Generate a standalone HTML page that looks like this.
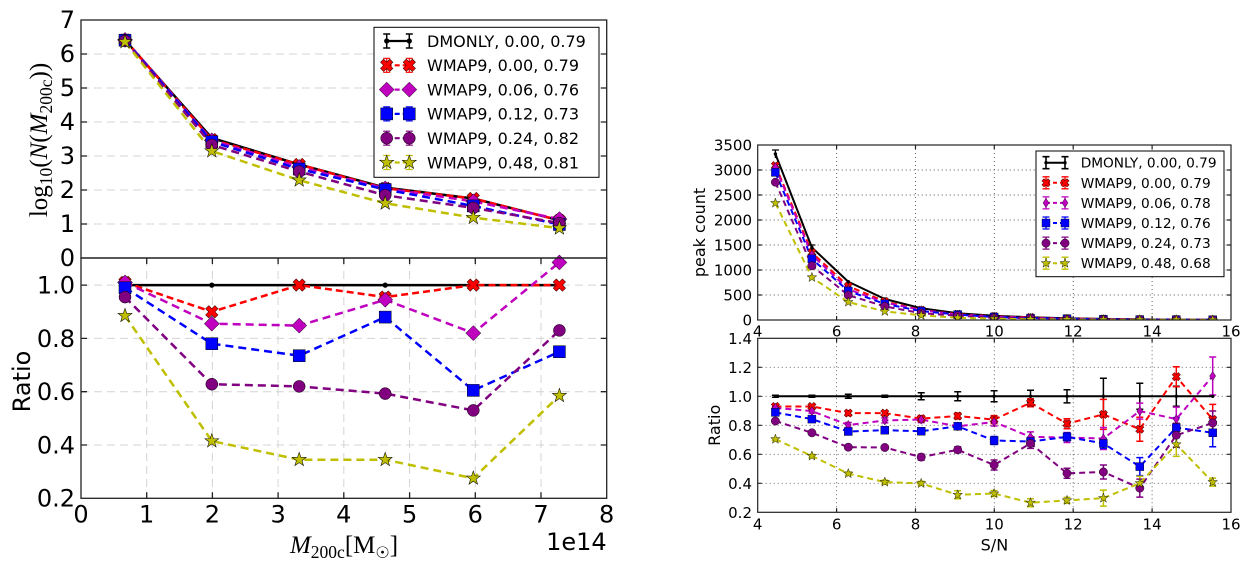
<!DOCTYPE html>
<html><head><meta charset="utf-8"><style>
html,body{margin:0;padding:0;background:#fff;overflow:hidden}
svg{display:block}
</style></head><body>
<svg width="1258" height="572" viewBox="0 0 1258 572" xmlns="http://www.w3.org/2000/svg" font-family="'DejaVu Sans','Liberation Sans',sans-serif">
<defs>
<path id="XL" d="M-2.2,-6.5H2.2V-2.2H6.5V2.2H2.2V6.5H-2.2V2.2H-6.5V-2.2H-2.2Z" transform="rotate(45)" fill="#f00" stroke="#400" stroke-width="0.6"/>
<path id="DL" d="M0,-7.5L7.5,0L0,7.5L-7.5,0Z" fill="#bf00bf" stroke="#000" stroke-width="0.5"/>
<rect id="SL" x="-6" y="-6" width="12" height="12" fill="#00f" stroke="#000" stroke-width="0.5"/>
<circle id="CL" r="6" fill="#800080" stroke="#000" stroke-width="0.5"/>
<polygon id="StL" points="0,-7 1.646,-2.265 6.657,-2.163 2.663,0.865 4.114,5.663 0,2.8 -4.114,5.663 -2.663,0.865 -6.657,-2.163 -1.646,-2.265" transform="scale(1.05)" fill="#bfbf00" stroke="#000" stroke-width="0.5"/>
<circle id="KL" r="2.6" fill="#000"/>
<path id="XR" d="M-1.5,-4.3H1.5V-1.5H4.3V1.5H1.5V4.3H-1.5V1.5H-4.3V-1.5H-1.5Z" transform="rotate(45)" fill="#f00" stroke="#400" stroke-width="0.5"/>
<path id="DR" d="M0,-4.6L3,0L0,4.6L-3,0Z" fill="#bf00bf" stroke="#000" stroke-width="0.4"/>
<rect id="SR" x="-4" y="-4" width="8" height="8" fill="#00f" stroke="#000" stroke-width="0.4"/>
<circle id="CR" r="4.2" fill="#800080" stroke="#000" stroke-width="0.4"/>
<polygon id="StR" points="0,-7 1.646,-2.265 6.657,-2.163 2.663,0.865 4.114,5.663 0,2.8 -4.114,5.663 -2.663,0.865 -6.657,-2.163 -1.646,-2.265" transform="scale(0.72)" fill="#bfbf00" stroke="#000" stroke-width="0.6"/>
<circle id="KR" r="1.7" fill="#000"/>
<clipPath id="clipRT"><rect x="757.7" y="145" width="473.3" height="175"/></clipPath>
</defs>

<!-- ================= LEFT FIGURE ================= -->
<!-- grid top -->
<g stroke="#d4d4d4" stroke-width="1" stroke-dasharray="8,5" fill="none">
<path d="M81 224H606.7M81 190H606.7M81 156H606.7M81 122H606.7M81 88H606.7M81 54H606.7"/>
<path d="M81 285.1H606.7M81 338.4H606.7M81 391.7H606.7M81 445H606.7"/>
<path d="M146.7 258V498.3M212.4 258V498.3M278.1 258V498.3M343.8 258V498.3M409.6 258V498.3M475.3 258V498.3M541 258V498.3"/>
</g>

<!-- top-left data lines -->
<g fill="none" stroke-width="2.5" stroke-linejoin="round">
<polyline points="125,40.1 211.8,138 299.2,164.5 385.2,187.6 473.3,198.5 559.4,220.3" stroke="#000"/>
<polyline points="125,39.9 211.8,139.6 299.2,164.5 385.2,188.3 473.3,198.5 559.4,220.3" stroke="#f00" stroke-dasharray="7,4"/>
<polyline points="125,39.9 211.8,140.3 299.2,166.9 385.2,188.4 473.3,201.4 559.4,219.1" stroke="#bf00bf" stroke-dasharray="8,5"/>
<polyline points="125,40.2 211.8,141.7 299.2,169 385.2,189.5 473.3,205.9 559.4,224.5" stroke="#00f" stroke-dasharray="8,5"/>
<polyline points="125,40.8 211.8,144.9 299.2,171.6 385.2,195.3 473.3,207.9 559.4,223.1" stroke="#800080" stroke-dasharray="8,5"/>
<polyline points="125,41.9 211.8,151 299.2,180.2 385.2,203.3 473.3,217.6 559.4,228.2" stroke="#bfbf00" stroke-dasharray="8,5"/>
</g>
<g>
<use href="#KL" x="125" y="40.1"/><use href="#KL" x="211.8" y="138"/><use href="#KL" x="299.2" y="164.5"/><use href="#KL" x="385.2" y="187.6"/><use href="#KL" x="473.3" y="198.5"/><use href="#KL" x="559.4" y="220.3"/>
<use href="#XL" x="125" y="39.9"/><use href="#XL" x="211.8" y="139.6"/><use href="#XL" x="299.2" y="164.5"/><use href="#XL" x="385.2" y="188.3"/><use href="#XL" x="473.3" y="198.5"/><use href="#XL" x="559.4" y="220.3"/>
<use href="#DL" x="125" y="39.9"/><use href="#DL" x="211.8" y="140.3"/><use href="#DL" x="299.2" y="166.9"/><use href="#DL" x="385.2" y="188.4"/><use href="#DL" x="473.3" y="201.4"/><use href="#DL" x="559.4" y="219.1"/>
<use href="#SL" x="125" y="40.2"/><use href="#SL" x="211.8" y="141.7"/><use href="#SL" x="299.2" y="169"/><use href="#SL" x="385.2" y="189.5"/><use href="#SL" x="473.3" y="205.9"/><use href="#SL" x="559.4" y="224.5"/>
<use href="#CL" x="125" y="40.8"/><use href="#CL" x="211.8" y="144.9"/><use href="#CL" x="299.2" y="171.6"/><use href="#CL" x="385.2" y="195.3"/><use href="#CL" x="473.3" y="207.9"/><use href="#CL" x="559.4" y="223.1"/>
<use href="#StL" x="125" y="41.9"/><use href="#StL" x="211.8" y="151"/><use href="#StL" x="299.2" y="180.2"/><use href="#StL" x="385.2" y="203.3"/><use href="#StL" x="473.3" y="217.6"/><use href="#StL" x="559.4" y="228.2"/>
</g>

<!-- bottom-left data lines -->
<g fill="none" stroke-width="2.5" stroke-linejoin="round">
<polyline points="125,285.1 211.8,285.1 299.2,285.1 385.2,285.1 473.3,285.1 559.4,285.1" stroke="#000"/>
<polyline points="125,282.4 211.8,311.8 299.2,285.1 385.2,297.1 473.3,285.1 559.4,285.1" stroke="#f00" stroke-dasharray="7,4"/>
<polyline points="125,282.4 211.8,323.7 299.2,325.6 385.2,299.8 473.3,333.1 559.4,262.4" stroke="#bf00bf" stroke-dasharray="8,5"/>
<polyline points="125,287.8 211.8,343.7 299.2,355.7 385.2,317.1 473.3,390.4 559.4,351.7" stroke="#00f" stroke-dasharray="8,5"/>
<polyline points="125,297.1 211.8,384.2 299.2,386.4 385.2,393.6 473.3,410.4 559.4,330.4" stroke="#800080" stroke-dasharray="8,5"/>
<polyline points="125,315.7 211.8,441 299.2,459.7 385.2,459.7 473.3,478.3 559.4,395.7" stroke="#bfbf00" stroke-dasharray="8,5"/>
</g>
<g>
<use href="#KL" x="125" y="285.1"/><use href="#KL" x="211.8" y="285.1"/><use href="#KL" x="299.2" y="285.1"/><use href="#KL" x="385.2" y="285.1"/><use href="#KL" x="473.3" y="285.1"/><use href="#KL" x="559.4" y="285.1"/>
<use href="#XL" x="125" y="282.4"/><use href="#XL" x="211.8" y="311.8"/><use href="#XL" x="299.2" y="285.1"/><use href="#XL" x="385.2" y="297.1"/><use href="#XL" x="473.3" y="285.1"/><use href="#XL" x="559.4" y="285.1"/>
<use href="#DL" x="125" y="282.4"/><use href="#DL" x="211.8" y="323.7"/><use href="#DL" x="299.2" y="325.6"/><use href="#DL" x="385.2" y="299.8"/><use href="#DL" x="473.3" y="333.1"/><use href="#DL" x="559.4" y="262.4"/>
<use href="#SL" x="125" y="287.8"/><use href="#SL" x="211.8" y="343.7"/><use href="#SL" x="299.2" y="355.7"/><use href="#SL" x="385.2" y="317.1"/><use href="#SL" x="473.3" y="390.4"/><use href="#SL" x="559.4" y="351.7"/>
<use href="#CL" x="125" y="297.1"/><use href="#CL" x="211.8" y="384.2"/><use href="#CL" x="299.2" y="386.4"/><use href="#CL" x="385.2" y="393.6"/><use href="#CL" x="473.3" y="410.4"/><use href="#CL" x="559.4" y="330.4"/>
<use href="#StL" x="125" y="315.7"/><use href="#StL" x="211.8" y="441"/><use href="#StL" x="299.2" y="459.7"/><use href="#StL" x="385.2" y="459.7"/><use href="#StL" x="473.3" y="478.3"/><use href="#StL" x="559.4" y="395.7"/>
</g>

<!-- left frames & ticks -->
<g fill="none" stroke="#222" stroke-width="1.3">
<rect x="81" y="20" width="525.7" height="238"/>
<rect x="81" y="258" width="525.7" height="240.3"/>
<path d="M81 224h6M81 190h6M81 156h6M81 122h6M81 88h6M81 54h6M606.7 224h-6M606.7 190h-6M606.7 156h-6M606.7 122h-6M606.7 88h-6M606.7 54h-6"/>
<path d="M81 285.1h6M81 338.4h6M81 391.7h6M81 445h6M606.7 285.1h-6M606.7 338.4h-6M606.7 391.7h-6M606.7 445h-6"/>
<path d="M146.7 498.3v-6M212.4 498.3v-6M278.1 498.3v-6M343.8 498.3v-6M409.6 498.3v-6M475.3 498.3v-6M541 498.3v-6M146.7 258v6M212.4 258v6M278.1 258v6M343.8 258v6M409.6 258v6M475.3 258v6M541 258v6"/>
</g>

<!-- left tick labels -->
<g font-size="24" fill="#000" text-anchor="end">
<text x="75" y="28">7</text><text x="75" y="62">6</text><text x="75" y="96">5</text><text x="75" y="130">4</text><text x="75" y="164">3</text><text x="75" y="198">2</text><text x="75" y="232">1</text><text x="75" y="266">0</text>
<text x="75" y="293.5">1.0</text><text x="75" y="346.8">0.8</text><text x="75" y="400.1">0.6</text><text x="75" y="453.4">0.4</text><text x="75" y="506.7">0.2</text>
</g>
<g font-size="24" fill="#000" text-anchor="middle">
<text x="81" y="522.7">0</text><text x="146.7" y="522.7">1</text><text x="212.4" y="522.7">2</text><text x="278.1" y="522.7">3</text><text x="343.8" y="522.7">4</text><text x="409.6" y="522.7">5</text><text x="475.3" y="522.7">6</text><text x="541" y="522.7">7</text><text x="606.7" y="522.7">8</text>
</g>
<text x="606.7" y="550" font-size="24" text-anchor="end">1e14</text>
<text x="344" y="553" font-size="25" text-anchor="middle" font-family="'Liberation Serif','DejaVu Serif',serif"><tspan font-style="italic">M</tspan><tspan font-size="17.5" dy="5">200c</tspan><tspan dy="-5">[M</tspan><tspan font-size="16" dy="5" font-family="'DejaVu Sans',sans-serif">☉</tspan><tspan dy="-5">]</tspan></text>
<text transform="translate(47,140) rotate(-90)" font-size="25" text-anchor="middle" font-family="'Liberation Serif','DejaVu Serif',serif">log<tspan font-size="17.5" dy="5">10</tspan><tspan dy="-5">(</tspan><tspan font-style="italic">N</tspan>(<tspan font-style="italic">M</tspan><tspan font-size="17.5" dy="5">200c</tspan><tspan dy="-5">))</tspan></text>
<text transform="translate(30,381.5) rotate(-90)" font-size="24" text-anchor="middle">Ratio</text>

<!-- left legend -->
<rect x="374" y="27.3" width="225" height="150" fill="#fff" stroke="#000" stroke-width="1"/>
<g fill="none" stroke-width="2.2">
<path d="M386.7 41H409.3" stroke="#000"/>
<path d="M386.7 34v14M383.2 34h7M383.2 48h7M409.3 34v14M405.8 34h7M405.8 48h7" stroke="#000" stroke-width="1.5"/>
<path d="M386.7 65.3H409.3" stroke="#f00" stroke-dasharray="5,3"/>
<path d="M386.7 58.3v14M383.2 58.3h7M383.2 72.3h7M409.3 58.3v14M405.8 58.3h7M405.8 72.3h7" stroke="#f00" stroke-width="1.2"/>
<path d="M386.7 89.6H409.3" stroke="#bf00bf" stroke-dasharray="5,3"/>
<path d="M386.7 106.9v14M383.2 106.9h7M383.2 120.9h7M409.3 106.9v14M405.8 106.9h7M405.8 120.9h7" stroke="#00f" stroke-width="1.2"/>
<path d="M386.7 113.9H409.3" stroke="#00f" stroke-dasharray="5,3"/>
<path d="M386.7 131.2v14M383.2 131.2h7M383.2 145.2h7M409.3 131.2v14M405.8 131.2h7M405.8 145.2h7" stroke="#800080" stroke-width="1.2"/>
<path d="M386.7 138.2H409.3" stroke="#800080" stroke-dasharray="5,3"/>
<path d="M386.7 155.5v14M383.2 155.5h7M383.2 169.5h7M409.3 155.5v14M405.8 155.5h7M405.8 169.5h7" stroke="#bfbf00" stroke-width="1.2"/>
<path d="M386.7 162.5H409.3" stroke="#bfbf00" stroke-dasharray="5,3"/>
</g>
<use href="#KL" x="386.7" y="41"/><use href="#KL" x="409.3" y="41"/>
<use href="#XL" x="386.7" y="65.3"/><use href="#XL" x="409.3" y="65.3"/>
<use href="#DL" x="386.7" y="89.6"/><use href="#DL" x="409.3" y="89.6"/>
<use href="#SL" x="386.7" y="113.9"/><use href="#SL" x="409.3" y="113.9"/>
<use href="#CL" x="386.7" y="138.2"/><use href="#CL" x="409.3" y="138.2"/>
<use href="#StL" x="386.7" y="162.5"/><use href="#StL" x="409.3" y="162.5"/>
<g font-size="16" fill="#000">
<text x="427" y="46.8">DMONLY, 0.00, 0.79</text>
<text x="427" y="71.1">WMAP9, 0.00, 0.79</text>
<text x="427" y="95.4">WMAP9, 0.06, 0.76</text>
<text x="427" y="119.7">WMAP9, 0.12, 0.73</text>
<text x="427" y="144">WMAP9, 0.24, 0.82</text>
<text x="427" y="168.3">WMAP9, 0.48, 0.81</text>
</g>

<!-- ================= RIGHT FIGURE ================= -->
<g stroke="#555" stroke-width="0.9" stroke-dasharray="1,3" fill="none">
<path d="M757.7 295H1231M757.7 270H1231M757.7 245H1231M757.7 220H1231M757.7 195H1231M757.7 170H1231"/>
<path d="M836.6 145V320M915.5 145V320M994.3 145V320M1073.2 145V320M1152.1 145V320"/>
<path d="M757.7 367.3H1231M757.7 396.3H1231M757.7 425.3H1231M757.7 454.3H1231M757.7 483.3H1231"/>
<path d="M836.6 338.3V512.3M915.5 338.3V512.3M994.3 338.3V512.3M1073.2 338.3V512.3M1152.1 338.3V512.3"/>
</g>

<!-- top-right data -->
<g clip-path="url(#clipRT)">
<g fill="none" stroke-width="2" stroke-linejoin="round">
<polyline stroke="#000" points="775.4,154 811.9,247.5 848.3,281.75 884.8,299 921.2,308.25 957.7,313.25 994.1,315.75 1030.5,317.25 1067,318.25 1103.4,318.9 1139.8,319.3 1176.3,319.55 1212.7,319.7"/>
<polyline stroke="#f00" stroke-dasharray="6,4" points="775.4,165.6 811.9,252.6 848.3,286.2 884.8,301.4 921.2,310.1 957.7,314.2 994.1,316.4 1030.5,317.4 1067,318.6 1103.4,319 1139.8,319.5 1176.3,319.5 1212.7,319.7"/>
<polyline stroke="#bf00bf" stroke-dasharray="6,4" points="775.4,167.1 811.9,254.9 848.3,289.3 884.8,302.5 921.2,310.1 957.7,314.6 994.1,316.5 1030.5,318 1067,318.75 1103.4,319.2 1139.8,319.4 1176.3,319.6 1212.7,319.7"/>
<polyline stroke="#00f" stroke-dasharray="6,4" points="775.4,172.4 811.9,258.9 848.3,291 884.8,303.9 921.2,311.1 957.7,314.6 994.1,317 1030.5,318.1 1067,318.7 1103.4,319.3 1139.8,319.6 1176.3,319.6 1212.7,319.8"/>
<polyline stroke="#800080" stroke-dasharray="6,4" points="775.4,182.2 811.9,265.8 848.3,295.2 884.8,306.4 921.2,313.2 957.7,315.7 994.1,317.8 1030.5,318.1 1067,319.2 1103.4,319.5 1139.8,319.7 1176.3,319.7 1212.7,319.8"/>
<polyline stroke="#bfbf00" stroke-dasharray="6,4" points="775.4,203.1 811.9,277.4 848.3,302.1 884.8,311.4 921.2,315.3 957.7,317.8 994.1,318.6 1030.5,319.3 1067,319.5 1103.4,319.7 1139.8,319.7 1176.3,319.7 1212.7,319.9"/>
</g>
<path d="M775.4 150V158M772 150h7M811.9 245V250M808.4 245h7" stroke="#000" stroke-width="1.3" fill="none"/>
<use href="#KR" x="775.4" y="154"/><use href="#KR" x="811.9" y="247.5"/><use href="#KR" x="848.3" y="281.75"/><use href="#KR" x="884.8" y="299"/><use href="#KR" x="921.2" y="308.25"/><use href="#KR" x="957.7" y="313.25"/><use href="#KR" x="994.1" y="315.75"/><use href="#KR" x="1030.5" y="317.25"/><use href="#KR" x="1067" y="318.25"/><use href="#KR" x="1103.4" y="318.9"/><use href="#KR" x="1139.8" y="319.3"/><use href="#KR" x="1176.3" y="319.55"/><use href="#KR" x="1212.7" y="319.7"/>
<use href="#XR" x="775.4" y="165.6"/><use href="#XR" x="811.9" y="252.6"/><use href="#XR" x="848.3" y="286.2"/><use href="#XR" x="884.8" y="301.4"/><use href="#XR" x="921.2" y="310.1"/><use href="#XR" x="957.7" y="314.2"/><use href="#XR" x="994.1" y="316.4"/><use href="#XR" x="1030.5" y="317.4"/><use href="#XR" x="1067" y="318.6"/><use href="#XR" x="1103.4" y="319"/><use href="#XR" x="1139.8" y="319.5"/><use href="#XR" x="1176.3" y="319.5"/><use href="#XR" x="1212.7" y="319.7"/>
<use href="#DR" x="775.4" y="167.1"/><use href="#DR" x="811.9" y="254.9"/><use href="#DR" x="848.3" y="289.3"/><use href="#DR" x="884.8" y="302.5"/><use href="#DR" x="921.2" y="310.1"/><use href="#DR" x="957.7" y="314.6"/><use href="#DR" x="994.1" y="316.5"/><use href="#DR" x="1030.5" y="318"/><use href="#DR" x="1067" y="318.75"/><use href="#DR" x="1103.4" y="319.2"/><use href="#DR" x="1139.8" y="319.4"/><use href="#DR" x="1176.3" y="319.6"/><use href="#DR" x="1212.7" y="319.7"/>
<use href="#SR" x="775.4" y="172.4"/><use href="#SR" x="811.9" y="258.9"/><use href="#SR" x="848.3" y="291"/><use href="#SR" x="884.8" y="303.9"/><use href="#SR" x="921.2" y="311.1"/><use href="#SR" x="957.7" y="314.6"/><use href="#SR" x="994.1" y="317"/><use href="#SR" x="1030.5" y="318.1"/><use href="#SR" x="1067" y="318.7"/><use href="#SR" x="1103.4" y="319.3"/><use href="#SR" x="1139.8" y="319.6"/><use href="#SR" x="1176.3" y="319.6"/><use href="#SR" x="1212.7" y="319.8"/>
<use href="#CR" x="775.4" y="182.2"/><use href="#CR" x="811.9" y="265.8"/><use href="#CR" x="848.3" y="295.2"/><use href="#CR" x="884.8" y="306.4"/><use href="#CR" x="921.2" y="313.2"/><use href="#CR" x="957.7" y="315.7"/><use href="#CR" x="994.1" y="317.8"/><use href="#CR" x="1030.5" y="318.1"/><use href="#CR" x="1067" y="319.2"/><use href="#CR" x="1103.4" y="319.5"/><use href="#CR" x="1139.8" y="319.7"/><use href="#CR" x="1176.3" y="319.7"/><use href="#CR" x="1212.7" y="319.8"/>
<use href="#StR" x="775.4" y="203.1"/><use href="#StR" x="811.9" y="277.4"/><use href="#StR" x="848.3" y="302.1"/><use href="#StR" x="884.8" y="311.4"/><use href="#StR" x="921.2" y="315.3"/><use href="#StR" x="957.7" y="317.8"/><use href="#StR" x="994.1" y="318.6"/><use href="#StR" x="1030.5" y="319.3"/><use href="#StR" x="1067" y="319.5"/><use href="#StR" x="1103.4" y="319.7"/><use href="#StR" x="1139.8" y="319.7"/><use href="#StR" x="1176.3" y="319.7"/><use href="#StR" x="1212.7" y="319.9"/>
</g>

<!-- bottom-right data -->
<g fill="none" stroke-width="1.5">
<path stroke="#000" d="M775.4 395.3V397.3M771.9 395.3h7M771.9 397.3h7M811.9 395.3V397.3M808.4 395.3h7M808.4 397.3h7M848.3 394.3V398.3M844.8 394.3h7M844.8 398.3h7M884.8 395.3V397.3M881.3 395.3h7M881.3 397.3h7M921.2 392.8V399.8M917.7 392.8h7M917.7 399.8h7M957.7 391.8V400.8M954.2 391.8h7M954.2 400.8h7M994.1 390.8V401.8M990.6 390.8h7M990.6 401.8h7M1030.5 390.3V402.3M1027 390.3h7M1027 402.3h7M1067 389.7V402.9M1063.5 389.7h7M1063.5 402.9h7M1103.4 378.3V414.3M1099.9 378.3h7M1099.9 414.3h7M1139.8 383.3V409.3M1136.3 383.3h7M1136.3 409.3h7M1176.3 386.3V406.3M1172.8 386.3h7M1172.8 406.3h7"/>
<path stroke="#f00" d="M775.4 404.5V408.5M771.9 404.5h7M771.9 408.5h7M811.9 404.5V408.5M808.4 404.5h7M808.4 408.5h7M848.3 410.6V415.6M844.8 410.6h7M844.8 415.6h7M884.8 411.1V415.1M881.3 411.1h7M881.3 415.1h7M921.2 415.6V421.6M917.7 415.6h7M917.7 421.6h7M957.7 413V419M954.2 413h7M954.2 419h7M994.1 415.6V423.6M990.6 415.6h7M990.6 423.6h7M1030.5 398.8V406.8M1027 398.8h7M1027 406.8h7M1067 418.7V428.7M1063.5 418.7h7M1063.5 428.7h7M1103.4 399.4V429.4M1099.9 399.4h7M1099.9 429.4h7M1139.8 417.2V441.2M1136.3 417.2h7M1136.3 441.2h7M1176.3 366.7V386.7M1172.8 366.7h7M1172.8 386.7h7M1212.7 404.4V434.4M1209.2 404.4h7M1209.2 434.4h7"/>
<path stroke="#bf00bf" d="M775.4 406.3V409.3M771.9 406.3h7M771.9 409.3h7M811.9 409.1V413.1M808.4 409.1h7M808.4 413.1h7M848.3 422.5V427.5M844.8 422.5h7M844.8 427.5h7M884.8 417.9V422.9M881.3 417.9h7M881.3 422.9h7M921.2 416.6V422.6M917.7 416.6h7M917.7 422.6h7M957.7 423.3V429.3M954.2 423.3h7M954.2 429.3h7M994.1 418V426M990.6 418h7M990.6 426h7M1030.5 431.9V441.9M1027 431.9h7M1027 441.9h7M1067 432.5V442.5M1063.5 432.5h7M1063.5 442.5h7M1103.4 427.5V449.5M1099.9 427.5h7M1099.9 449.5h7M1139.8 403.1V419.1M1136.3 403.1h7M1136.3 419.1h7M1176.3 407.1V431.1M1172.8 407.1h7M1172.8 431.1h7M1212.7 357V395M1209.2 357h7M1209.2 395h7"/>
<path stroke="#00f" d="M775.4 410.9V413.9M771.9 410.9h7M771.9 413.9h7M811.9 417.1V421.1M808.4 417.1h7M808.4 421.1h7M848.3 429.5V433.5M844.8 429.5h7M844.8 433.5h7M884.8 428.2V432.2M881.3 428.2h7M881.3 432.2h7M921.2 428.2V434.2M917.7 428.2h7M917.7 434.2h7M957.7 423.3V429.3M954.2 423.3h7M954.2 429.3h7M994.1 436.5V444.5M990.6 436.5h7M990.6 444.5h7M1030.5 437.5V445.5M1027 437.5h7M1027 445.5h7M1067 432.9V440.9M1063.5 432.9h7M1063.5 440.9h7M1103.4 438.4V448.4M1099.9 438.4h7M1099.9 448.4h7M1139.8 457.6V475.6M1136.3 457.6h7M1136.3 475.6h7M1176.3 417.6V437.6M1172.8 417.6h7M1172.8 437.6h7M1212.7 418.8V446.8M1209.2 418.8h7M1209.2 446.8h7"/>
<path stroke="#800080" d="M775.4 419.5V422.5M771.9 419.5h7M771.9 422.5h7M811.9 430.8V434.8M808.4 430.8h7M808.4 434.8h7M848.3 445.2V449.2M844.8 445.2h7M844.8 449.2h7M884.8 445.5V449.5M881.3 445.5h7M881.3 449.5h7M921.2 454.1V460.1M917.7 454.1h7M917.7 460.1h7M957.7 446.8V452.8M954.2 446.8h7M954.2 452.8h7M994.1 460V470M990.6 460h7M990.6 470h7M1030.5 438.4V448.4M1027 438.4h7M1027 448.4h7M1067 468.3V478.3M1063.5 468.3h7M1063.5 478.3h7M1103.4 465V479M1099.9 465h7M1099.9 479h7M1139.8 479.1V497.1M1136.3 479.1h7M1136.3 497.1h7M1176.3 423.2V447.2M1172.8 423.2h7M1172.8 447.2h7M1212.7 411V435M1209.2 411h7M1209.2 435h7"/>
<path stroke="#bfbf00" d="M775.4 438.2V440.2M771.9 438.2h7M771.9 440.2h7M811.9 454.5V457.5M808.4 454.5h7M808.4 457.5h7M848.3 472.1V475.1M844.8 472.1h7M844.8 475.1h7M884.8 480.1V484.1M881.3 480.1h7M881.3 484.1h7M921.2 481.4V485.4M917.7 481.4h7M917.7 485.4h7M957.7 490.8V498.8M954.2 490.8h7M954.2 498.8h7M994.1 490.5V496.5M990.6 490.5h7M990.6 496.5h7M1030.5 498.7V506.7M1027 498.7h7M1027 506.7h7M1067 497.4V503.4M1063.5 497.4h7M1063.5 503.4h7M1103.4 490.1V506.1M1099.9 490.1h7M1099.9 506.1h7M1139.8 476.2V490.2M1136.3 476.2h7M1136.3 490.2h7M1176.3 432.4V456.4M1172.8 432.4h7M1172.8 456.4h7M1212.7 478.1V486.1M1209.2 478.1h7M1209.2 486.1h7"/>
</g>
<g fill="none" stroke-width="2" stroke-linejoin="round">
<polyline stroke="#000" points="775.4,396.3 1212.7,396.3"/>
<polyline stroke="#f00" stroke-dasharray="6,4" points="775.4,406.45 811.9,406.45 848.3,413.1 884.8,413.1 921.2,418.6 957.7,416 994.1,419.6 1030.5,402.8 1067,423.7 1103.4,414.4 1139.8,429.2 1176.3,376.7 1212.7,419.4"/>
<polyline stroke="#bf00bf" stroke-dasharray="6,4" points="775.4,407.8 811.9,411.1 848.3,425 884.8,420.4 921.2,419.6 957.7,426.3 994.1,422 1030.5,436.9 1067,437.5 1103.4,438.5 1139.8,411.1 1176.3,419.1 1212.7,376"/>
<polyline stroke="#00f" stroke-dasharray="6,4" points="775.4,412.4 811.9,419.1 848.3,431.5 884.8,430.2 921.2,431.2 957.7,426.3 994.1,440.5 1030.5,441.5 1067,436.9 1103.4,443.4 1139.8,466.6 1176.3,427.6 1212.7,432.8"/>
<polyline stroke="#800080" stroke-dasharray="6,4" points="775.4,421 811.9,432.8 848.3,447.2 884.8,447.5 921.2,457.1 957.7,449.8 994.1,465 1030.5,443.4 1067,473.3 1103.4,472 1139.8,488.1 1176.3,435.2 1212.7,423"/>
<polyline stroke="#bfbf00" stroke-dasharray="6,4" points="775.4,439.2 811.9,456 848.3,473.6 884.8,482.1 921.2,483.4 957.7,494.8 994.1,493.5 1030.5,502.7 1067,500.4 1103.4,498.1 1139.8,483.2 1176.3,444.4 1212.7,482.1"/>
</g>
<g>
<use href="#KR" x="775.4" y="396.3"/><use href="#KR" x="811.9" y="396.3"/><use href="#KR" x="848.3" y="396.3"/><use href="#KR" x="884.8" y="396.3"/><use href="#KR" x="921.2" y="396.3"/><use href="#KR" x="957.7" y="396.3"/><use href="#KR" x="994.1" y="396.3"/><use href="#KR" x="1030.5" y="396.3"/><use href="#KR" x="1067" y="396.3"/><use href="#KR" x="1103.4" y="396.3"/><use href="#KR" x="1139.8" y="396.3"/><use href="#KR" x="1176.3" y="396.3"/><use href="#KR" x="1212.7" y="396.3"/>
<use href="#XR" x="775.4" y="406.45"/><use href="#XR" x="811.9" y="406.45"/><use href="#XR" x="848.3" y="413.1"/><use href="#XR" x="884.8" y="413.1"/><use href="#XR" x="921.2" y="418.6"/><use href="#XR" x="957.7" y="416"/><use href="#XR" x="994.1" y="419.6"/><use href="#XR" x="1030.5" y="402.8"/><use href="#XR" x="1067" y="423.7"/><use href="#XR" x="1103.4" y="414.4"/><use href="#XR" x="1139.8" y="429.2"/><use href="#XR" x="1176.3" y="376.7"/><use href="#XR" x="1212.7" y="419.4"/>
<use href="#DR" x="775.4" y="407.8"/><use href="#DR" x="811.9" y="411.1"/><use href="#DR" x="848.3" y="425"/><use href="#DR" x="884.8" y="420.4"/><use href="#DR" x="921.2" y="419.6"/><use href="#DR" x="957.7" y="426.3"/><use href="#DR" x="994.1" y="422"/><use href="#DR" x="1030.5" y="436.9"/><use href="#DR" x="1067" y="437.5"/><use href="#DR" x="1103.4" y="438.5"/><use href="#DR" x="1139.8" y="411.1"/><use href="#DR" x="1176.3" y="419.1"/><use href="#DR" x="1212.7" y="376"/>
<use href="#SR" x="775.4" y="412.4"/><use href="#SR" x="811.9" y="419.1"/><use href="#SR" x="848.3" y="431.5"/><use href="#SR" x="884.8" y="430.2"/><use href="#SR" x="921.2" y="431.2"/><use href="#SR" x="957.7" y="426.3"/><use href="#SR" x="994.1" y="440.5"/><use href="#SR" x="1030.5" y="441.5"/><use href="#SR" x="1067" y="436.9"/><use href="#SR" x="1103.4" y="443.4"/><use href="#SR" x="1139.8" y="466.6"/><use href="#SR" x="1176.3" y="427.6"/><use href="#SR" x="1212.7" y="432.8"/>
<use href="#CR" x="775.4" y="421"/><use href="#CR" x="811.9" y="432.8"/><use href="#CR" x="848.3" y="447.2"/><use href="#CR" x="884.8" y="447.5"/><use href="#CR" x="921.2" y="457.1"/><use href="#CR" x="957.7" y="449.8"/><use href="#CR" x="994.1" y="465"/><use href="#CR" x="1030.5" y="443.4"/><use href="#CR" x="1067" y="473.3"/><use href="#CR" x="1103.4" y="472"/><use href="#CR" x="1139.8" y="488.1"/><use href="#CR" x="1176.3" y="435.2"/><use href="#CR" x="1212.7" y="423"/>
<use href="#StR" x="775.4" y="439.2"/><use href="#StR" x="811.9" y="456"/><use href="#StR" x="848.3" y="473.6"/><use href="#StR" x="884.8" y="482.1"/><use href="#StR" x="921.2" y="483.4"/><use href="#StR" x="957.7" y="494.8"/><use href="#StR" x="994.1" y="493.5"/><use href="#StR" x="1030.5" y="502.7"/><use href="#StR" x="1067" y="500.4"/><use href="#StR" x="1103.4" y="498.1"/><use href="#StR" x="1139.8" y="483.2"/><use href="#StR" x="1176.3" y="444.4"/><use href="#StR" x="1212.7" y="482.1"/>
</g>

<!-- right frames & ticks -->
<g fill="none" stroke="#222" stroke-width="1.2">
<rect x="757.7" y="145" width="473.3" height="175"/>
<rect x="757.7" y="338.3" width="473.3" height="174"/>
<path d="M757.7 295h4M757.7 270h4M757.7 245h4M757.7 220h4M757.7 195h4M757.7 170h4M1231 295h-4M1231 270h-4M1231 245h-4M1231 220h-4M1231 195h-4M1231 170h-4"/>
<path d="M836.6 145v4M915.5 145v4M994.3 145v4M1073.2 145v4M1152.1 145v4M836.6 320v-4M915.5 320v-4M994.3 320v-4M1073.2 320v-4M1152.1 320v-4"/>
<path d="M757.7 367.3h4M757.7 396.3h4M757.7 425.3h4M757.7 454.3h4M757.7 483.3h4M1231 367.3h-4M1231 396.3h-4M1231 425.3h-4M1231 454.3h-4M1231 483.3h-4"/>
<path d="M836.6 338.3v4M915.5 338.3v4M994.3 338.3v4M1073.2 338.3v4M1152.1 338.3v4M836.6 512.3v-4M915.5 512.3v-4M994.3 512.3v-4M1073.2 512.3v-4M1152.1 512.3v-4"/>
</g>

<!-- right legend -->
<rect x="1036" y="151" width="188" height="125.7" fill="#fff" stroke="#000" stroke-width="1"/>
<g fill="none" stroke-width="1.3">
<path d="M1046 156.7v12M1042.5 156.7h7M1042.5 168.7h7M1065 156.7v12M1061.5 156.7h7M1061.5 168.7h7" stroke="#000" stroke-width="1.6"/>
<path d="M1046 176.8v12M1042.5 176.8h7M1042.5 188.8h7M1065 176.8v12M1061.5 176.8h7M1061.5 188.8h7" stroke="#f00"/>
<path d="M1046 196.9v12M1042.5 196.9h7M1042.5 208.9h7M1065 196.9v12M1061.5 196.9h7M1061.5 208.9h7" stroke="#bf00bf"/>
<path d="M1046 217v12M1042.5 217h7M1042.5 229h7M1065 217v12M1061.5 217h7M1061.5 229h7" stroke="#00f"/>
<path d="M1046 237.1v12M1042.5 237.1h7M1042.5 249.1h7M1065 237.1v12M1061.5 237.1h7M1061.5 249.1h7" stroke="#800080"/>
<path d="M1046 257.2v12M1042.5 257.2h7M1042.5 269.2h7M1065 257.2v12M1061.5 257.2h7M1061.5 269.2h7" stroke="#bfbf00"/>
</g>
<g fill="none" stroke-width="2">
<path d="M1046 162.7H1065" stroke="#000"/>
<path d="M1046 182.8H1065" stroke="#f00" stroke-dasharray="4,3"/>
<path d="M1046 202.9H1065" stroke="#bf00bf" stroke-dasharray="4,3"/>
<path d="M1046 223H1065" stroke="#00f" stroke-dasharray="4,3"/>
<path d="M1046 243.1H1065" stroke="#800080" stroke-dasharray="4,3"/>
<path d="M1046 263.2H1065" stroke="#bfbf00" stroke-dasharray="4,3"/>
</g>
<use href="#KR" x="1046" y="162.7"/><use href="#KR" x="1065" y="162.7"/>
<use href="#XR" x="1046" y="182.8"/><use href="#XR" x="1065" y="182.8"/>
<use href="#DR" x="1046" y="202.9"/><use href="#DR" x="1065" y="202.9"/>
<use href="#SR" x="1046" y="223"/><use href="#SR" x="1065" y="223"/>
<use href="#CR" x="1046" y="243.1"/><use href="#CR" x="1065" y="243.1"/>
<use href="#StR" x="1046" y="263.2"/><use href="#StR" x="1065" y="263.2"/>
<g font-size="13.7" fill="#000">
<text x="1080.7" y="167.7">DMONLY, 0.00, 0.79</text>
<text x="1080.7" y="187.8">WMAP9, 0.00, 0.79</text>
<text x="1080.7" y="207.9">WMAP9, 0.06, 0.78</text>
<text x="1080.7" y="228">WMAP9, 0.12, 0.76</text>
<text x="1080.7" y="248.1">WMAP9, 0.24, 0.73</text>
<text x="1080.7" y="268.2">WMAP9, 0.48, 0.68</text>
</g>

<!-- right tick labels -->
<g font-size="15" fill="#000" text-anchor="end">
<text x="752" y="150.5">3500</text><text x="752" y="175.5">3000</text><text x="752" y="200.5">2500</text><text x="752" y="225.5">2000</text><text x="752" y="250.5">1500</text><text x="752" y="275.5">1000</text><text x="752" y="300.5">500</text><text x="752" y="325.5">0</text>
<text x="752" y="343.8">1.4</text><text x="752" y="372.8">1.2</text><text x="752" y="401.8">1.0</text><text x="752" y="430.8">0.8</text><text x="752" y="459.8">0.6</text><text x="752" y="488.8">0.4</text><text x="752" y="517.8">0.2</text>
</g>
<g font-size="15" fill="#000" text-anchor="middle">
<text x="757.7" y="336.5">4</text><text x="836.6" y="336.5">6</text><text x="915.5" y="336.5">8</text><text x="994.3" y="336.5">10</text><text x="1073.2" y="336.5">12</text><text x="1152.1" y="336.5">14</text><text x="1231" y="336.5">16</text>
<text x="757.7" y="529.5">4</text><text x="836.6" y="529.5">6</text><text x="915.5" y="529.5">8</text><text x="994.3" y="529.5">10</text><text x="1073.2" y="529.5">12</text><text x="1152.1" y="529.5">14</text><text x="1231" y="529.5">16</text>
</g>
<text x="994.4" y="550.5" font-size="16" text-anchor="middle">S/N</text>
<text transform="translate(705,232.5) rotate(-90)" font-size="16" text-anchor="middle">peak count</text>
<text transform="translate(720,425.3) rotate(-90)" font-size="16" text-anchor="middle">Ratio</text>
</svg>
</body></html>
